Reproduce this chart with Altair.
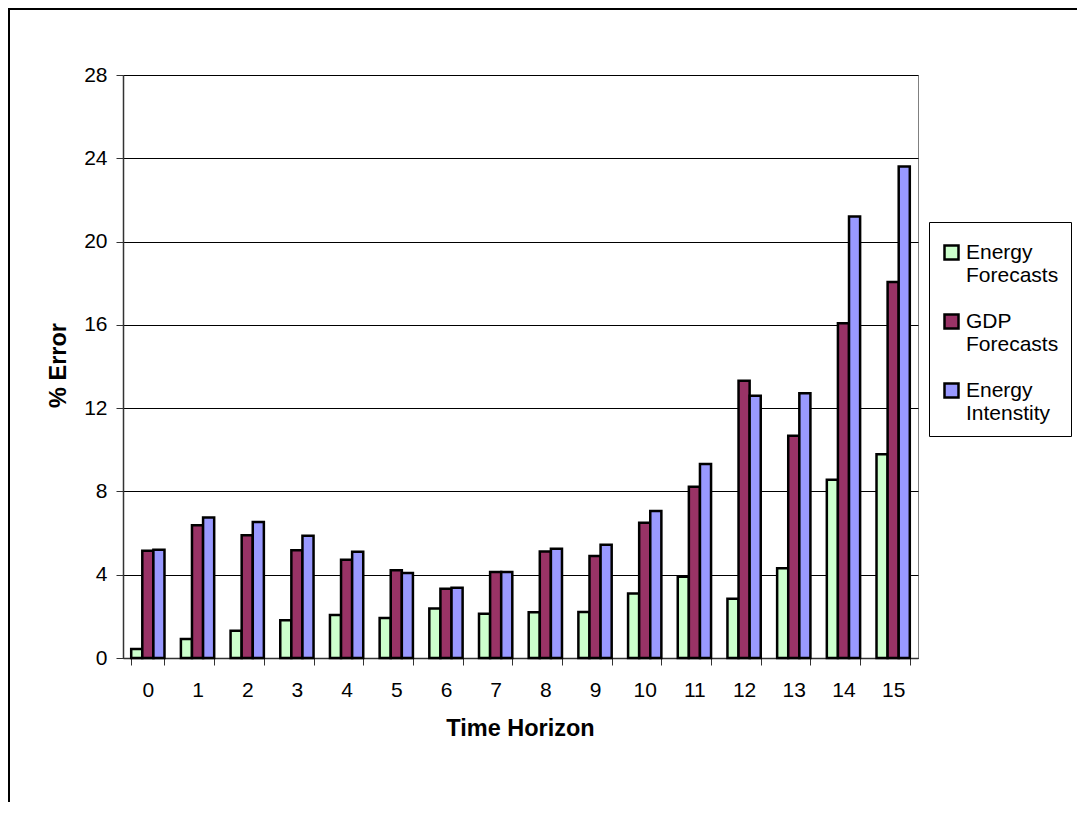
import altair as alt
import pandas as pd

horizons = list(range(16))
series_names = ["Energy Forecasts", "GDP Forecasts", "Energy Intenstity"]
series_colors = ["#CCFFCC", "#993366", "#9999FF"]

energy_forecasts = [0.43, 0.91, 1.31, 1.81, 2.06, 1.92, 2.38, 2.13,
                    2.20, 2.21, 3.10, 3.90, 2.85, 4.31, 8.56, 9.78]
gdp_forecasts = [5.15, 6.37, 5.89, 5.18, 4.72, 4.22, 3.33, 4.13,
                 5.12, 4.90, 6.50, 8.23, 13.31, 10.68, 16.08, 18.06]
energy_intensity = [5.20, 6.75, 6.53, 5.87, 5.10, 4.08, 3.37, 4.13,
                    5.25, 5.44, 7.06, 9.32, 12.60, 12.72, 21.20, 23.60]
y_ticks = [0, 4, 8, 12, 16, 20, 24, 28]

rows = []
for name, values in zip(series_names,
                        [energy_forecasts, gdp_forecasts, energy_intensity]):
    for h, v in zip(horizons, values):
        rows.append({"horizon": h, "series": name, "error": v})
df = pd.DataFrame(rows)

FONT = "Liberation Sans"

bars = (
    alt.Chart(df)
    .mark_bar(stroke="black", strokeWidth=2.5)
    .encode(
        x=alt.X("horizon:O", title="Time Horizon",
                scale=alt.Scale(paddingInner=0.33, paddingOuter=0.165),
                axis=alt.Axis(labelAngle=0, tickBand="extent", tickSize=7,
                              labelPadding=14, titleX=397, titleY=70,
                              titleBaseline="middle")),
        xOffset=alt.XOffset("series:N", sort=series_names),
        y=alt.Y("error:Q", title="% Error",
                scale=alt.Scale(domain=[0, 28], nice=False),
                axis=alt.Axis(values=y_ticks, tickSize=7, labelPadding=9,
                              titleX=-65, titleY=290, titleAngle=270,
                              titleBaseline="middle", titleAlign="center")),
        color=alt.Color("series:N",
                        scale=alt.Scale(domain=series_names,
                                        range=series_colors),
                        legend=alt.Legend(title=" ", titleFontSize=4,
                                          titlePadding=4, orient="none",
                                          legendX=806, legendY=147,
                                          labelExpr="split(datum.label, ' ')")),
    )
)

# outer frame around the whole chart
frame = (
    alt.Chart(pd.DataFrame({"f": [0]}))
    .mark_rect(filled=False, stroke="black", strokeWidth=2)
    .encode(x=alt.value(-114), x2=alt.value(1200),
            y=alt.value(-66), y2=alt.value(1000))
)

chart = (
    alt.layer(bars, frame)
    .properties(width=795, height=583,
                autosize=alt.AutoSizeParams(type="none"),
                padding={"left": 115, "top": 67, "right": 159, "bottom": 144})
    .configure_view(stroke="#808080", strokeWidth=1)
    .configure_axis(labelFont=FONT, labelFontSize=21, labelColor="black",
                    titleFont=FONT, titleFontSize=23.5, titleFontWeight="bold",
                    titleColor="black", domainColor="#333333",
                    tickColor="#333333", domainWidth=1.5,
                    gridColor="black", gridWidth=1)
    .configure_axisX(grid=False)
    .configure_legend(labelFont=FONT, labelFontSize=21, labelColor="black",
                      labelLimit=0, symbolType="square", symbolSize=196,
                      symbolStrokeColor="black", symbolStrokeWidth=2.5,
                      strokeColor="black", fillColor="white", padding=12,
                      rowPadding=23, labelOffset=4)
)

chart.save("out.html", embed_options={"renderer": "svg", "actions": False})
